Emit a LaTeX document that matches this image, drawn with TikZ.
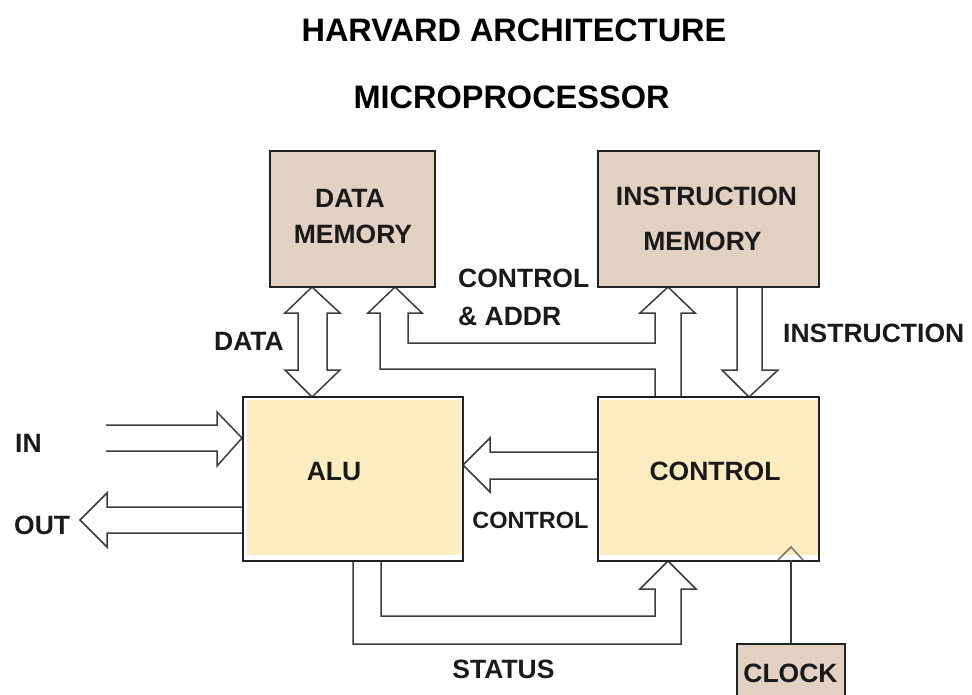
\documentclass[tikz,border=0pt]{standalone}
\usepackage{fontspec}
\setmainfont{Liberation Sans}
\definecolor{memfill}{RGB}{226,208,192}
\definecolor{cpufill}{RGB}{253,236,192}
\definecolor{txt}{RGB}{26,26,26}
\definecolor{edge}{RGB}{34,34,34}
\definecolor{arr}{RGB}{60,60,60}
\tikzset{
  box/.style={draw=edge, line width=2pt, rectangle, inner sep=0pt},
  membox/.style={box, fill=memfill},
  fatarrow/.style={draw=arr, line width=1.5pt, fill=white, line join=miter},
  lbl/.style={font=\fontsize{26.5}{30}\selectfont\bfseries, inner sep=0pt, text=txt},
  small/.style={font=\fontsize{23.5}{28}\selectfont\bfseries, inner sep=0pt, text=txt},
  ttl/.style={font=\fontsize{32.5}{38}\selectfont\bfseries, inner sep=0pt, text=black}
}
\begin{document}
\begin{tikzpicture}[x=1pt,y=-1pt]
\useasboundingbox (0,0) rectangle (972,694);
\begin{scope}
\clip (0,0) rectangle (972,694);
% title
\node[ttl, anchor=base] (t1) at (514,41) {HARVARD ARCHITECTURE};
\node[ttl, anchor=base] (t2) at (511.5,108) {MICROPROCESSOR};
% DATA double arrow
\draw[fatarrow] (312,287) -- (340,313) -- (327,313) -- (327,370) -- (340,370)
  -- (312,397) -- (285,370) -- (298,370) -- (298,313) -- (285,313) -- cycle;
% control & addr branching arrow
\draw[fatarrow] (655,397) -- (655,369) -- (380,369) -- (380,313) -- (368,313)
  -- (395,287) -- (422,313) -- (408,313) -- (408,343) -- (655,343) -- (655,313)
  -- (640,313) -- (668,287) -- (695,313) -- (681,313) -- (681,397);
% instruction arrow
\draw[fatarrow] (737,287) -- (737,370) -- (722,370) -- (749,397) -- (778,370)
  -- (762,370) -- (762,287);
% control -> alu
\draw[fatarrow] (598,452) -- (490,452) -- (490,438) -- (463,465) -- (490,492)
  -- (490,479) -- (598,479);
% IN
\draw[fatarrow, fill=none] (106,425) -- (217,425) -- (217,412) -- (242,438)
  -- (217,466) -- (217,451) -- (106,451);
% OUT
\draw[fatarrow] (243,507) -- (107,507) -- (107,493) -- (80,520) -- (107,547)
  -- (107,533) -- (243,533);
% STATUS
\draw[fatarrow] (381,561) -- (381,616) -- (655,616) -- (655,589) -- (640,589)
  -- (668,561) -- (696,589) -- (681,589) -- (681,644) -- (353,644) -- (353,561);
% memory boxes
\node[membox, minimum width=165pt, minimum height=136pt] (dm) at (352.5,219) {};
\node[membox, minimum width=221pt, minimum height=136pt] (im) at (708.5,219) {};
% cpu boxes: fills slightly inset, borders on top
\fill[cpufill] (247,400) rectangle (461,555);
\fill[cpufill] (600,400) rectangle (818,555);
\node[box, minimum width=220pt, minimum height=164pt] (alu) at (353,479) {};
\node[box, minimum width=221pt, minimum height=164pt] (ctrl) at (708.5,479) {};
% clock
\node[membox, minimum width=108pt, minimum height=62pt, anchor=north] (clock) at (791,643) {};
% clock line and caret
\draw[draw=arr, line width=1.8pt] (clock.north) -- (791,560);
\draw[draw=arr!70, line width=1.5pt] (778,560) -- (791,547) -- (803,560);
% box texts
\node[lbl, anchor=base] (dmt1) at (350,207) {DATA};
\node[lbl, anchor=base] (dmt2) at (353,243) {MEMORY};
\node[lbl, anchor=base] (imt1) at (706.5,205) {INSTRUCTION};
\node[lbl, anchor=base] (imt2) at (702.5,250) {MEMORY};
\node[lbl, anchor=base] (alut) at (334,480) {ALU};
\node[lbl, anchor=base] (ctrlt) at (715,480) {CONTROL};
\node[lbl, anchor=base] (clockt) at (790.5,682) {CLOCK};
% labels
\node[lbl, anchor=base west] (ca1) at (458,287) {CONTROL};
\node[lbl, anchor=base west] (ca2) at (458,325) {\& ADDR};
\node[lbl, anchor=base east] (datal) at (284,350) {DATA};
\node[lbl, anchor=base west] (instl) at (783,342) {INSTRUCTION};
\node[lbl, anchor=base west] (inl) at (15,452) {IN};
\node[lbl, anchor=base west] (outl) at (14,534) {OUT};
\node[small, anchor=base] (ctrll) at (530.5,528) {CONTROL};
\node[lbl, anchor=base] (statl) at (503.5,678) {STATUS};
\end{scope}
\end{tikzpicture}
\end{document}
